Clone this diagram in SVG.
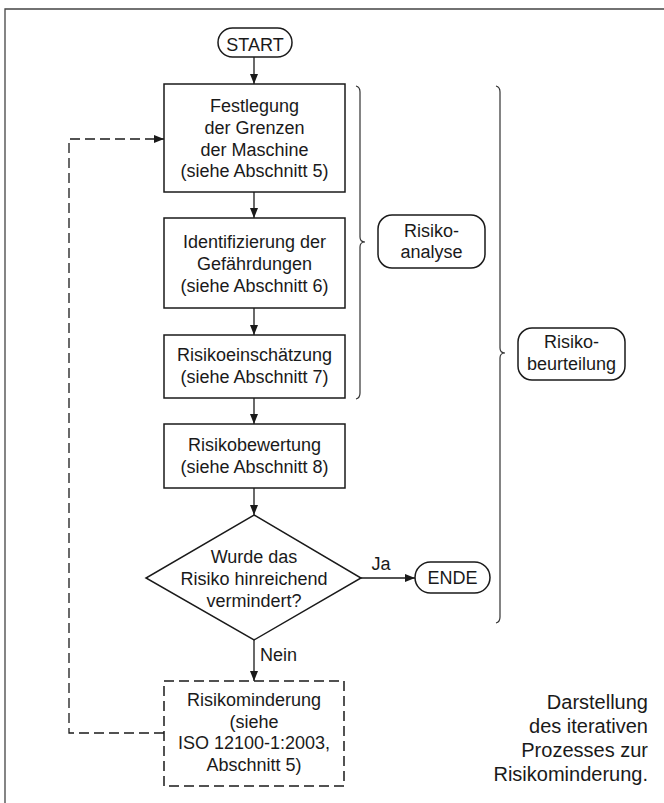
<svg xmlns="http://www.w3.org/2000/svg" width="664" height="803" viewBox="0 0 664 803">
<defs>
<marker id="ah" viewBox="0 0 10 8" refX="10" refY="4" markerWidth="10" markerHeight="8" markerUnits="userSpaceOnUse" orient="auto">
<path d="M0,0 L10,4 L0,8 Z" fill="#1a1a1a"/>
</marker>
<style>
.t{font-family:"Liberation Sans",Arial,sans-serif;font-size:18px;fill:#1a1a1a;text-anchor:middle}
.c{font-family:"Liberation Sans",Arial,sans-serif;font-size:20px;fill:#1a1a1a;text-anchor:end}
.b{fill:#fff;stroke:#1a1a1a;stroke-width:1.5}
.d{fill:#fff;stroke:#1a1a1a;stroke-width:1.5;stroke-dasharray:10,5}
.l{fill:none;stroke:#1a1a1a;stroke-width:1.3}
.br{fill:none;stroke:#333;stroke-width:1.2}
</style>
</defs>
<rect width="664" height="803" fill="#fff"/>
<path d="M5,803 L5,9 L664,9" fill="none" stroke="#444" stroke-width="1.3"/>

<g id="connectors">
<line class="l" x1="254" y1="57" x2="254" y2="84" marker-end="url(#ah)"/>
<line class="l" x1="254" y1="192" x2="254" y2="218" marker-end="url(#ah)"/>
<line class="l" x1="254" y1="308" x2="254" y2="335" marker-end="url(#ah)"/>
<line class="l" x1="254" y1="398" x2="254" y2="424" marker-end="url(#ah)"/>
<line class="l" x1="254" y1="488" x2="254" y2="515" marker-end="url(#ah)"/>
<line class="l" x1="361" y1="578" x2="415" y2="578" marker-end="url(#ah)"/>
<line class="l" x1="254" y1="640" x2="254" y2="681" marker-end="url(#ah)"/>
<path class="l" d="M164,733 L69,733 L69,139 L164,139" stroke-dasharray="10,5" marker-end="url(#ah)"/>
<text class="t" x="381" y="570">Ja</text>
<text class="t" x="260" y="661" style="text-anchor:start">Nein</text>
</g>

<g id="start">
<rect class="b" x="218" y="28" width="74" height="29" rx="14.5"/>
<text class="t" x="255" y="51">START</text>
</g>

<g id="festlegung">
<rect class="b" x="164" y="84" width="181" height="108"/>
<text class="t" x="254.5" y="112">Festlegung</text>
<text class="t" x="254.5" y="134">der Grenzen</text>
<text class="t" x="254.5" y="156">der Maschine</text>
<text class="t" x="254.5" y="177">(siehe Abschnitt 5)</text>
</g>

<g id="identifizierung">
<rect class="b" x="164" y="218" width="181" height="90"/>
<text class="t" x="254.5" y="248">Identifizierung der</text>
<text class="t" x="254.5" y="270">Gefährdungen</text>
<text class="t" x="254.5" y="292">(siehe Abschnitt 6)</text>
</g>

<g id="einschaetzung">
<rect class="b" x="164" y="335" width="181" height="63"/>
<text class="t" x="254.5" y="361">Risikoeinschätzung</text>
<text class="t" x="254.5" y="383">(siehe Abschnitt 7)</text>
</g>

<g id="bewertung">
<rect class="b" x="164" y="424" width="181" height="64"/>
<text class="t" x="254.5" y="451">Risikobewertung</text>
<text class="t" x="254.5" y="473">(siehe Abschnitt 8)</text>
</g>

<g id="entscheidung">
<path class="b" d="M254,515 L361,578 L254,640 L146,578 Z"/>
<text class="t" x="254" y="563">Wurde das</text>
<text class="t" x="254" y="585">Risiko hinreichend</text>
<text class="t" x="254" y="607">vermindert?</text>
</g>

<g id="ende">
<rect class="b" x="415" y="562" width="75" height="31" rx="15.5"/>
<text class="t" x="452.5" y="584">ENDE</text>
</g>

<g id="minderung">
<rect class="d" x="164" y="681" width="180" height="105"/>
<text class="t" x="254" y="706">Risikominderung</text>
<text class="t" x="254" y="728">(siehe</text>
<text class="t" x="254" y="749">ISO 12100-1:2003,</text>
<text class="t" x="254" y="771">Abschnitt 5)</text>
</g>

<g id="brace-analyse">
<path class="br" d="M356,86 Q360,87 360,92 L360,237 Q360,242 365,242 Q360,242 360,247 L360,393 Q360,398 356,399"/>
</g>
<g id="risikoanalyse">
<rect class="b" x="378" y="215" width="107" height="53" rx="14"/>
<text class="t" x="431.5" y="237">Risiko-</text>
<text class="t" x="431.5" y="258">analyse</text>
</g>

<g id="brace-beurteilung">
<path class="br" d="M496,86 Q500,87 500,92 L500,348 Q500,353 505,353 Q500,353 500,358 L500,617 Q500,622 496,623"/>
</g>
<g id="risikobeurteilung">
<rect class="b" x="518" y="328" width="107" height="52" rx="14"/>
<text class="t" x="571.5" y="348">Risiko-</text>
<text class="t" x="571.5" y="370">beurteilung</text>
</g>

<g id="caption">
<text class="c" x="648" y="709">Darstellung</text>
<text class="c" x="648" y="733">des iterativen</text>
<text class="c" x="648" y="757">Prozesses zur</text>
<text class="c" x="648" y="781">Risikominderung.</text>
</g>
</svg>
